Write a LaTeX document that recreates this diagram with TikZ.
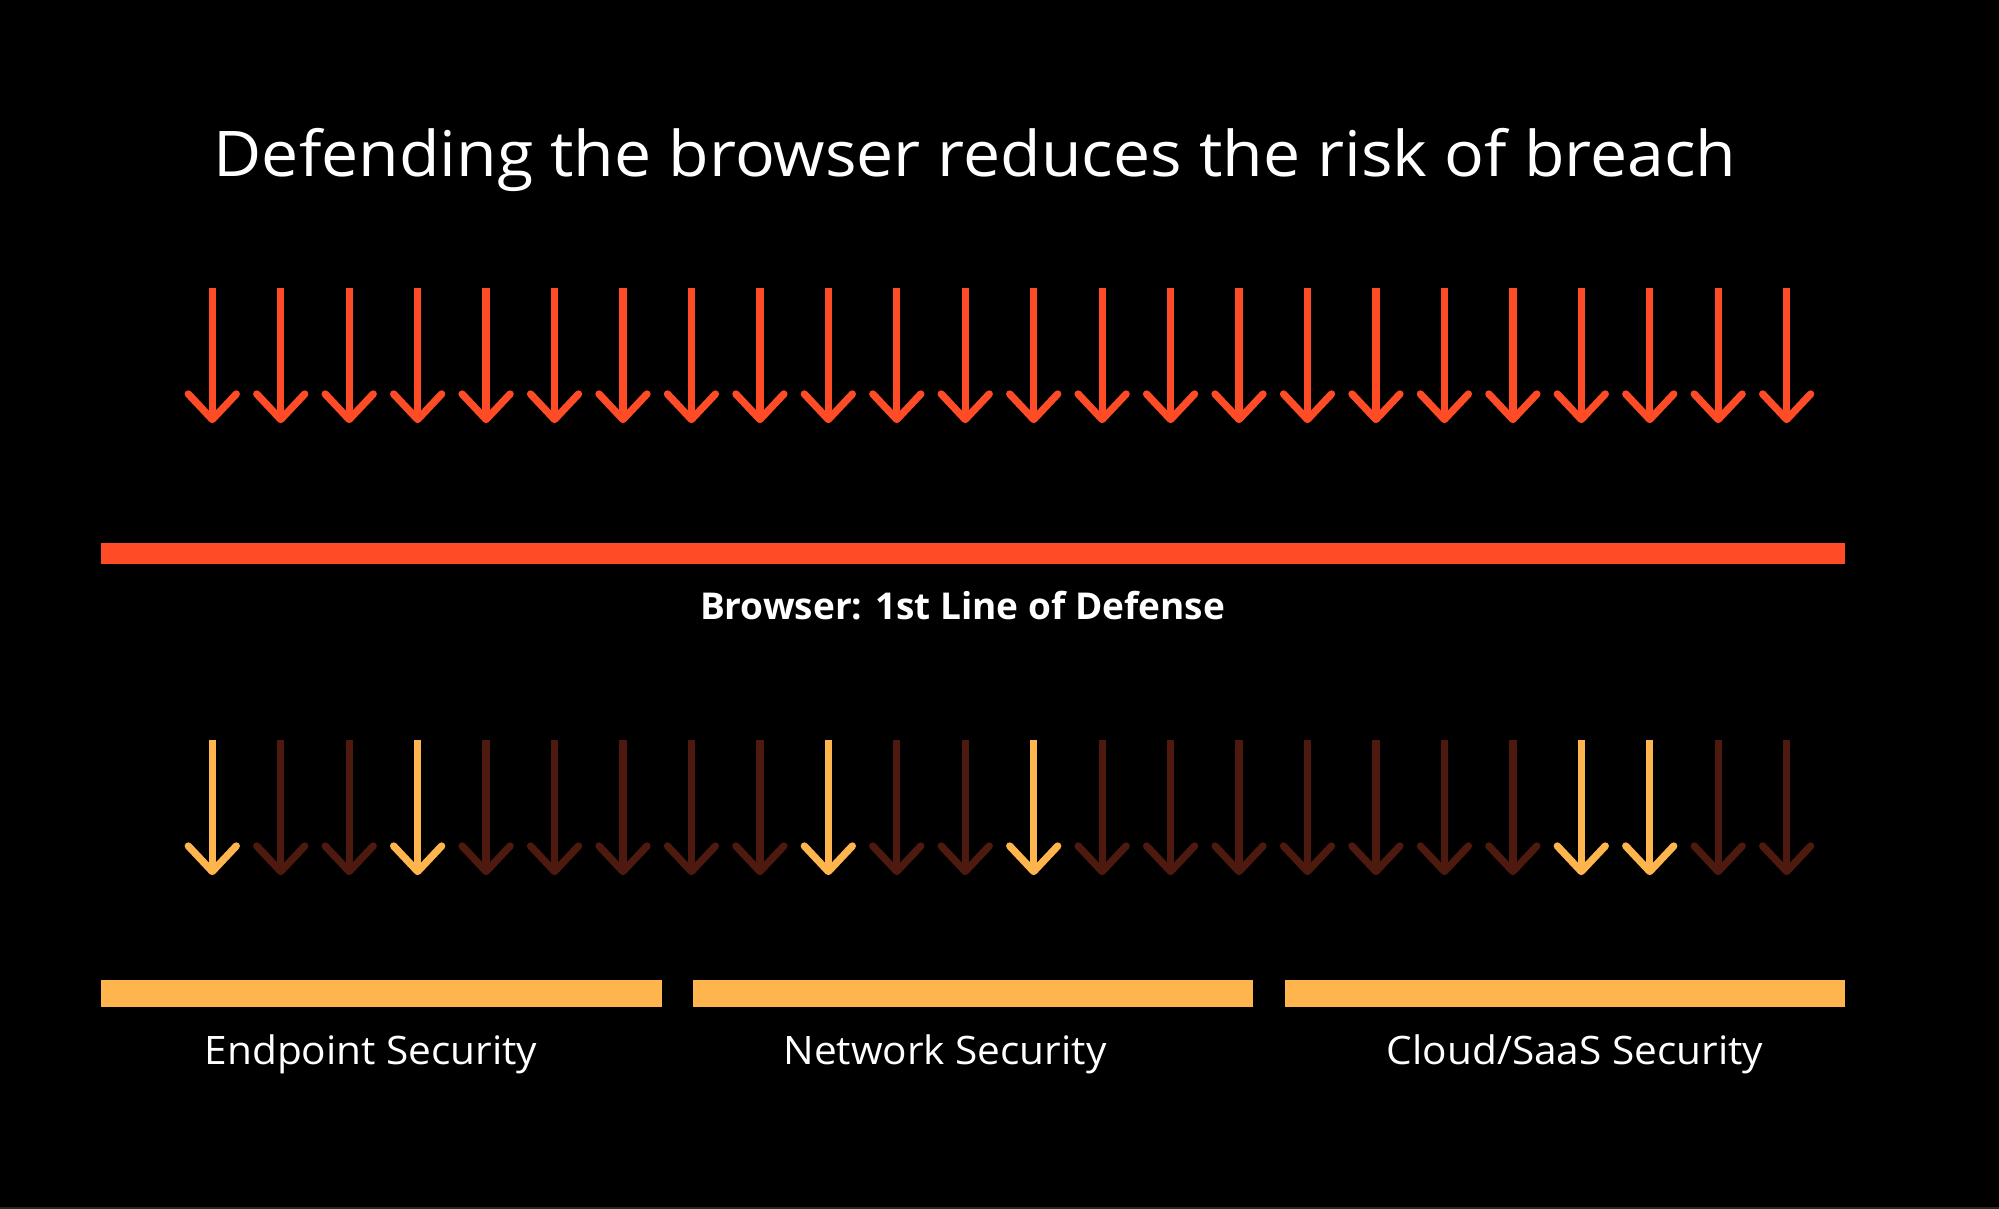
\documentclass[tikz,border=0pt]{standalone}
\usepackage{fontspec}
\setmainfont{Open Sans}
\definecolor{bred}{HTML}{FF4B26}
\definecolor{byel}{HTML}{FFB54D}
\definecolor{bdark}{HTML}{4E1A10}
\begin{document}
\begin{tikzpicture}[x=0.5pt,y=-0.5pt,
  shaft/.style={line width=3.65pt,line cap=butt},
  headline/.style={line width=3.65pt,line cap=round,line join=round},
  txt/.style={text=white,inner sep=0pt,anchor=base},
  title/.style={txt,font=\fontsize{31.5}{36}\selectfont},
  boldlbl/.style={txt,font=\bfseries\fontsize{18.5}{22}\selectfont},
  lbl/.style={txt,font=\fontsize{19.6}{23}\selectfont}]
\fill[black] (0,0) rectangle (1999,1209);
\useasboundingbox (0,0) rectangle (1999,1209);
\fill[black!85!white] (0,1207) rectangle (1999,1209);
% title
\node[title] (title) at (975,176.7) {\scalebox{1.05}[1]{Defending the browser reduces the risk of breach}};
% top arrows
\foreach \i in {0,...,23}{
  \pgfmathsetmacro{\xx}{212.3+68.45*\i}
  \coordinate (ta\i) at (\xx,288);
  \coordinate (tb\i) at (\xx,419.5);
  \draw[shaft,bred] (ta\i) -- (tb\i);
  \draw[headline,bred] ([xshift=-12pt,yshift=12.75pt]tb\i) -- (tb\i) -- ([xshift=12pt,yshift=12.75pt]tb\i);
}
% red bar
\fill[bred] (101,543) rectangle (1845,564);
\node[boldlbl] (browser) at (962.6,619.3) {Browser: 1st Line of Defense};
% bottom arrows
\foreach \i/\c in {0/byel,1/bdark,2/bdark,3/byel,4/bdark,5/bdark,6/bdark,7/bdark,8/bdark,9/byel,10/bdark,11/bdark,12/byel,13/bdark,14/bdark,15/bdark,16/bdark,17/bdark,18/bdark,19/bdark,20/byel,21/byel,22/bdark,23/bdark}{
  \pgfmathsetmacro{\xx}{212.3+68.45*\i}
  \coordinate (ba\i) at (\xx,740);
  \coordinate (bb\i) at (\xx,871.5);
  \draw[shaft,\c] (ba\i) -- (bb\i);
  \draw[headline,\c] ([xshift=-12pt,yshift=12.75pt]bb\i) -- (bb\i) -- ([xshift=12pt,yshift=12.75pt]bb\i);
}
% yellow bars
\fill[byel] (101,980) rectangle (662,1007);
\fill[byel] (693,980) rectangle (1253,1007);
\fill[byel] (1285,980) rectangle (1845,1007);
\node[lbl] (endpoint) at (371,1064) {\scalebox{1.035}[1]{Endpoint Security}};
\node[lbl] (network) at (945,1064) {\scalebox{1.035}[1]{Network Security}};
\node[lbl] (cloud) at (1575,1064) {\scalebox{1.035}[1]{Cloud/SaaS Security}};
\end{tikzpicture}
\end{document}
